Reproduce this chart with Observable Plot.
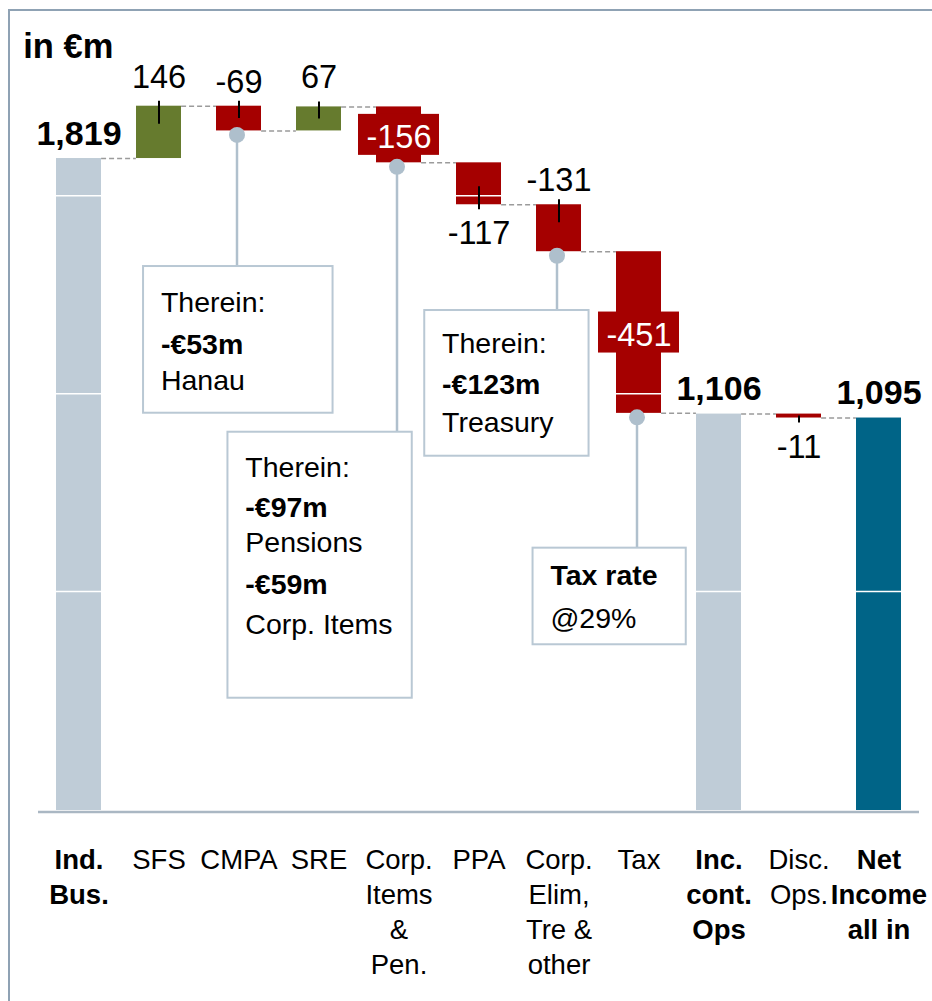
<!DOCTYPE html>
<html><head><meta charset="utf-8">
<script src="https://cdn.jsdelivr.net/npm/d3@7"></script>
<script src="https://cdn.jsdelivr.net/npm/@observablehq/plot@0.6"></script>
<style>
html,body{margin:0;padding:0;background:#fff;overflow:hidden;}
#wrap{position:relative;width:932px;height:1001px;}
#frame{position:absolute;left:8px;top:9px;right:-10px;bottom:-10px;border-left:2px solid #8fa2b4;border-top:2px solid #8fa2b4;pointer-events:none;}
</style></head><body>
<div id="wrap"><div id="chart"></div><div id="frame"></div></div>
<script>
// ---------- data ----------
const categories = ["Ind. Bus.","SFS","CMPA","SRE","Corp. Items & Pen.","PPA","Corp. Elim, Tre & other","Tax","Inc. cont. Ops","Disc. Ops.","Net Income all in"];
const tickLabels = ["Ind.\nBus.","SFS","CMPA","SRE","Corp.\nItems\n&\nPen.","PPA","Corp.\nElim,\nTre &\nother","Tax","Inc.\ncont.\nOps","Disc.\nOps.","Net\nIncome\nall in"];
const values = [1819,146,-69,67,-156,-117,-131,-451,1106,-11,1095];
const kinds = ["total","delta","delta","delta","delta","delta","delta","delta","total","delta","total"];
const valueLabels = ["1,819","146","-69","67","-156","-117","-131","-451","1,106","-11","1,095"];
const gridValues = [611,1163,1715];
const unitLabel = "in €m";
const notes = [
  {category:"CMPA", lines:[["Therein:",false],["-€53m",true],["Hanau",false]]},
  {category:"Corp. Items & Pen.", lines:[["Therein:",false],["-€97m",true],["Pensions",false],["-€59m",true],["Corp. Items",false]]},
  {category:"Corp. Elim, Tre & other", lines:[["Therein:",false],["-€123m",true],["Treasury",false]]},
  {category:"Tax", lines:[["Tax rate",true],["@29%",false]]}
];

// ---------- layout ----------
const W=932,H=1001,mL=38,mR=13,mT=10,mB=191,yMax=2232;
const k=(H-mT-mB)/yMax;
const u=p=>p/k;
const n=categories.length, padIn=0.437, padOut=0.218;
const step=(W-mL-mR)/(n-padIn+2*padOut);
const bw=step*(1-padIn);
const font="Liberation Sans, Arial, Helvetica, sans-serif";

const boxed=new Set(["Corp. Items & Pen.","Tax"]);
const below=new Set(["PPA","Disc. Ops."]);
const boldCats=new Set(["Ind. Bus.","Inc. cont. Ops","Net Income all in"]);
const noteLayout={
  "CMPA":{left:-95.5,right:94.1,top:135.6,bottom:282.3,base:[45.7,87,123]},
  "Corp. Items & Pen.":{left:-171.1,right:13.3,top:269.4,bottom:535.4,base:[45,85,120,161.6,201.6]},
  "Corp. Elim, Tre & other":{left:-134.3,right:30.1,top:58.8,bottom:204.5,base:[42,83,121]},
  "Tax":{left:-106,right:47.3,top:134.8,bottom:231.4,base:[37,80]}
};

let run=0;
const rows=categories.map((c,i)=>{
  let a,b;
  if(kinds[i]==="total"){a=0;b=values[i];} else {a=run;b=run+values[i];}
  run=b;
  return {category:c,tick:tickLabels[i],value:values[i],kind:kinds[i],label:valueLabels[i],lo:Math.min(a,b),hi:Math.max(a,b),end:b};
});
const fillFor=r=>r.kind==="total"?(r.category==="Net Income all in"?"#006487":"#bfccd7"):(r.value>0?"#667b2e":"#a50000");
const links=rows.slice(0,-1).map((r,i)=>({x1:r.category,x2:rows[i+1].category,y:r.end}));

const marks=[];
marks.push(Plot.barY(rows,{x:"category",y1:"lo",y2:"hi",fill:fillFor}));
marks.push(Plot.ruleY(gridValues,{stroke:"#fff",strokeWidth:1.5}));
marks.push(Plot.ruleY([0],{stroke:"#aab7c3",strokeWidth:2.5,dy:1.5}));
marks.push(Plot.ruleY(links,{x1:"x1",x2:"x2",y:"y",stroke:"#9b9b9b",strokeWidth:1.5,strokeDasharray:"5,3",insetLeft:bw,insetRight:bw}));

// ticks
const tickRows=rows.filter(r=>r.kind==="delta"&&!boxed.has(r.category)).map(r=>{
  const h=(r.hi-r.lo)*k, inner=Math.min(18,h/2);
  return below.has(r.category)?{category:r.category,y1:r.lo+u(inner),y2:r.lo-u(5)}:{category:r.category,y1:r.hi+u(5),y2:r.hi-u(inner)};
});
marks.push(Plot.ruleX(tickRows,{x:"category",y1:"y1",y2:"y2",stroke:"#000",strokeWidth:2}));

// value labels
marks.push(Plot.text(rows.filter(r=>r.kind==="total"),{x:"category",y:"hi",text:"label",dy:-14,lineAnchor:"bottom",fontSize:34,fontWeight:"bold",fill:"#000",fontFamily:font}));
const plain=rows.filter(r=>r.kind==="delta"&&!boxed.has(r.category)&&!below.has(r.category));
marks.push(Plot.text(plain.filter(r=>r.value>0),{x:"category",y:"hi",text:"label",dy:-18.5,lineAnchor:"bottom",fontSize:32.5,fill:"#000",fontFamily:font}));
marks.push(Plot.text(plain.filter(r=>r.value<0),{x:"category",y:"hi",text:"label",dy:-13.5,lineAnchor:"bottom",fontSize:32.5,fill:"#000",fontFamily:font}));
marks.push(Plot.text(rows.filter(r=>below.has(r.category)),{x:"category",y:"lo",text:"label",dy:16.5,lineAnchor:"top",fontSize:32.5,fill:"#000",fontFamily:font}));
const boxedRows=rows.filter(r=>boxed.has(r.category)).map(r=>({...r,mid:(r.lo+r.hi)/2}));
marks.push(Plot.barY(boxedRows,{x:"category",y1:d=>d.mid-u(20.5),y2:d=>d.mid+u(20.5),fill:"#a50000",insetLeft:-18,insetRight:-18}));
marks.push(Plot.text(boxedRows,{x:"category",y:"mid",text:"label",dy:3.2,lineAnchor:"middle",fontSize:32.5,fill:"#fff",fontFamily:font}));

// notes
const noteRows=[];
for(const note of notes){
  const r=rows.find(d=>d.category===note.category);
  noteRows.push(r);
  const L=noteLayout[note.category];
  marks.push(Plot.ruleX([r],{x:"category",y1:d=>d.lo,y2:d=>d.lo-u(L.top),dx:-2,stroke:"#b0c0cd",strokeWidth:2.5}));
  marks.push(Plot.barY([r],{x:"category",y1:d=>d.lo-u(L.top),y2:d=>d.lo-u(L.bottom),insetLeft:bw/2+L.left,insetRight:bw/2-L.right,fill:"#fff",stroke:"#b9c8d4",strokeWidth:2}));
  const lines=note.lines.map((l,j)=>({category:r.category,y:r.lo-u(L.top+L.base[j]),t:l[0],bold:l[1]}));
  for(const bold of [false,true]){
    marks.push(Plot.text(lines.filter(d=>d.bold===bold),{x:"category",y:"y",text:"t",textAnchor:"start",lineAnchor:"bottom",dx:L.left+17.4,fontSize:28.5,fontWeight:bold?"bold":"normal",fill:"#000",fontFamily:font}));
  }
}
marks.push(Plot.dot(noteRows,{x:"category",y:"lo",r:8,fill:"#aebfcc",dx:-2,dy:4}));

// category labels
for(const bold of [false,true]){
  marks.push(Plot.text(rows.filter(r=>boldCats.has(r.category)===bold),{x:"category",y:d=>0,text:"tick",lineAnchor:"top",dy:33,fontSize:27.5,lineHeight:1.28,fontWeight:bold?"bold":"normal",fill:"#000",fontFamily:font}));
}
// unit label
marks.push(Plot.text([unitLabel],{text:d=>d,frameAnchor:"top-left",textAnchor:"start",lineAnchor:"bottom",dx:-15.3,dy:47,fontSize:34.5,fontWeight:"bold",fill:"#000",fontFamily:font}));

const chart=Plot.plot({
  width:W,height:H,marginLeft:mL,marginRight:mR,marginTop:mT,marginBottom:mB,
  x:{domain:categories,axis:null,paddingInner:padIn,paddingOuter:padOut,align:0.5},
  y:{domain:[0,yMax],axis:null},
  color:{type:"identity"},
  style:{fontFamily:font,background:"transparent"},
  marks
});
document.getElementById("chart").appendChild(chart);
</script>
</body></html>
